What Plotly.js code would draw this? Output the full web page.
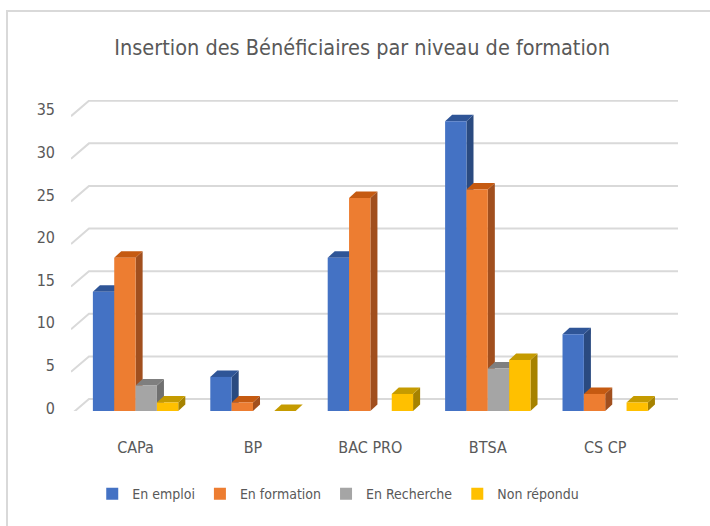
<!DOCTYPE html>
<html>
<head>
<meta charset="utf-8">
<script src="https://cdn.plot.ly/plotly-3.0.1.min.js"></script>
<style>html,body{margin:0;padding:0;background:#fff;}#chart{width:710px;height:526px;}</style>
</head>
<body>
<div id="chart"></div>
<script>
// ---- data ----
const categories = ["CAPa", "BP", "BAC PRO", "BTSA", "CS CP"];
const seriesNames = ["En emploi", "En formation", "En Recherche", "Non répondu"];
const enEmploi = [14, 4, 18, 34, 9];
const enFormation = [18, 1, 25, 26, 2];
const enRecherche = [3, null, null, 5, null];
const nonRepondu = [1, 0, 2, 6, 1];
const yTicks = [0, 5, 10, 15, 20, 25, 30, 35];
const title = "Insertion des Bénéficiaires par niveau de formation";

// ---- styles ----
const FONT = "'DejaVu Sans Condensed', 'Liberation Sans Narrow', sans-serif";
const frontCol = ["#4472C4", "#ED7D31", "#A5A5A5", "#FFC000"];
const topCol = ["#2F5597", "#C55A11", "#7F7F7F", "#C59B00"];
const sideCol = ["#2A4A80", "#A14F1E", "#707070", "#A68200"];
const barW = 0.1818;           // width of one bar (category units)
const dX = 0.06, dY = 0.76;    // bar depth offsets (data units)
const gX = 0.153, gY = 1.41;   // back-wall offsets for grid
const xMin = -0.55, xMax = 4.62;

const allSeries = [enEmploi, enFormation, enRecherche, nonRepondu];
const xIdx = categories.map((c, i) => i);

const traces = allSeries.map((vals, s) => ({
  type: "bar",
  name: seriesNames[s],
  x: xIdx,
  y: vals,
  width: barW,
  offset: -2 * barW + s * barW,
  marker: {color: frontCol[s], line: {width: 0}},
  hoverinfo: "y+name"
}));

const shapes = [];
// back-wall gridlines with diagonal edge
yTicks.forEach(t => {
  shapes.push({type: "path", xref: "x", yref: "y", layer: "below",
    path: `M ${xMin},${t - 0.4} L ${xMin + gX},${t + gY} L ${xMax},${t + gY}`,
    line: {color: "#D9D9D9", width: 2}});
});
// 3D faces of bars, left to right
xIdx.forEach(i => {
  allSeries.forEach((vals, s) => {
    const v = vals[i];
    if (v === null || v === undefined) return;
    const xl = i - 2 * barW + s * barW, xr = xl + barW;
    if (v > 0) {
      shapes.push({type: "path", xref: "x", yref: "y", layer: "below",
        path: `M ${xr},0 L ${xr},${v} L ${xr + dX},${v + dY} L ${xr + dX},${dY} Z`,
        fillcolor: sideCol[s], line: {width: 0}});
    }
    shapes.push({type: "path", xref: "x", yref: "y", layer: "below",
      path: `M ${xl},${v} L ${xr},${v} L ${xr + dX},${v + dY} L ${xl + dX},${v + dY} Z`,
      fillcolor: topCol[s], line: {width: 0}});
  });
});
// chart border
shapes.push({type: "rect", xref: "paper", yref: "paper",
  x0: -64 / 607, x1: 1.2, y0: -0.5, y1: (411 - 11) / 311,
  line: {color: "#D9D9D9", width: 2}, fillcolor: "rgba(0,0,0,0)", layer: "below"});

const layout = {
  width: 710, height: 526,
  margin: {l: 71, r: 32, t: 100, b: 115},
  paper_bgcolor: "#fff", plot_bgcolor: "rgba(0,0,0,0)",
  font: {family: FONT, color: "#595959", size: 16},
  title: {text: title, font: {family: FONT, size: 21.5, color: "#595959"},
          x: 0.51, xanchor: "center", y: 0.909, yanchor: "middle"},
  barmode: "group",
  showlegend: true,
  legend: {orientation: "h", x: 0.035, xanchor: "left", y: -0.267, yanchor: "middle",
           font: {size: 14, color: "#595959"}, traceorder: "normal", itemwidth: 30},
  xaxis: {range: [xMin, xMax], tickvals: xIdx, ticktext: categories,
          showgrid: false, zeroline: false, showline: false, ticks: "",
          ticklabelstandoff: 25, fixedrange: true},
  yaxis: {range: [0, 36.5], tickvals: yTicks, showgrid: false, zeroline: false,
          showline: false, ticks: "", ticklabelstandoff: 15, ticklabelshift: -3,
          fixedrange: true},
  shapes: shapes
};

Plotly.newPlot("chart", traces, layout, {displayModeBar: false, staticPlot: true});
</script>
</body>
</html>
